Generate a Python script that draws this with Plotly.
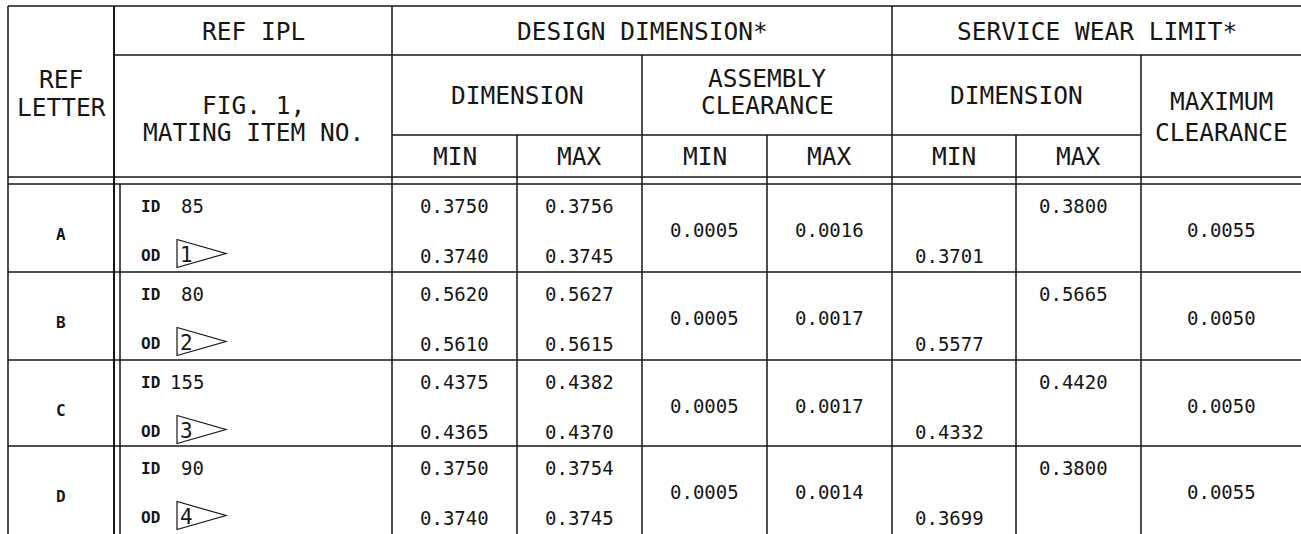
import plotly.graph_objects as go

# ---------------- data ----------------
ref_letters = ["A", "B", "C", "D"]
ipl_items = ["85", "80", "155", "90"]
flag_numbers = ["1", "2", "3", "4"]
design_min_id = [0.3750, 0.5620, 0.4375, 0.3750]
design_min_od = [0.3740, 0.5610, 0.4365, 0.3740]
design_max_id = [0.3756, 0.5627, 0.4382, 0.3754]
design_max_od = [0.3745, 0.5615, 0.4370, 0.3745]
assembly_min = [0.0005, 0.0005, 0.0005, 0.0005]
assembly_max = [0.0016, 0.0017, 0.0017, 0.0014]
wear_min = [0.3701, 0.5577, 0.4332, 0.3699]
wear_max = [0.3800, 0.5665, 0.4420, 0.3800]
max_clearance = [0.0055, 0.0050, 0.0050, 0.0055]

# ---------------- layout geometry (pixel-like units) ----------------
W, H = 1301, 534
col_x = [8, 114, 392, 517, 642, 767, 892, 1016, 1141, 1301]
inner_x = 120
hdr_y = [6, 55, 135, 177, 184]
row_top = [184, 272, 360, 446]
row_h = 88

FONT = "DejaVu Sans Mono"
INK = "#161616"
HDR = 24.5
VAL = 19

fig = go.Figure()
shapes = []
ann = []


def hline(y, x0, x1, w=1.5):
    shapes.append(dict(type="line", xref="x", yref="y", x0=x0, x1=x1, y0=y, y1=y,
                       line=dict(color=INK, width=w)))


def vline(x, y0, y1, w=1.5):
    shapes.append(dict(type="line", xref="x", yref="y", x0=x, x1=x, y0=y0, y1=y1,
                       line=dict(color=INK, width=w)))


def text(x, y, s, size=VAL, anchor="center", bold=False, xshift=0):
    ann.append(dict(xref="x", yref="y", x=x, y=y, text=("<b>%s</b>" % s) if bold else s,
                    showarrow=False, xanchor=anchor, yanchor="middle", xshift=xshift,
                    font=dict(family=FONT, size=size, color=INK)))


# horizontal rules
hline(hdr_y[0], col_x[0], W)
hline(hdr_y[1], col_x[1], W)
hline(hdr_y[2], col_x[2], col_x[8])
hline(hdr_y[3], col_x[0], W)
hline(hdr_y[4], col_x[0], W)
for t in row_top[1:]:
    hline(t, col_x[0], W)

# vertical rules
vline(col_x[0], hdr_y[0], H)
vline(col_x[1], hdr_y[0], H, 2)
vline(inner_x, hdr_y[4], H)
vline(col_x[2], hdr_y[0], H)
vline(col_x[3], hdr_y[2], H)
vline(col_x[4], hdr_y[1], H)
vline(col_x[5], hdr_y[2], H)
vline(col_x[6], hdr_y[0], H)
vline(col_x[7], hdr_y[2], H)
vline(col_x[8], hdr_y[1], H)


def cx(i, j=None):
    j = i + 1 if j is None else j
    return (col_x[i] + col_x[j]) / 2


# header text
text(cx(0), 79, "REF", HDR)
text(cx(0), 107, "LETTER", HDR)
text(cx(1), 31, "REF IPL", HDR)
text(cx(1), 105, "FIG. 1,", HDR)
text(cx(1), 132, "MATING ITEM NO.", HDR)
text(cx(2, 6), 31, "DESIGN DIMENSION*", HDR)
text(cx(6, 9), 31, "SERVICE WEAR LIMIT*", HDR)
text(cx(2, 4), 95, "DIMENSION", HDR)
text(cx(4, 6), 78, "ASSEMBLY", HDR)
text(cx(4, 6), 105, "CLEARANCE", HDR)
text(cx(6, 8), 95, "DIMENSION", HDR)
text(cx(8), 101, "MAXIMUM", HDR)
text(cx(8), 132, "CLEARANCE", HDR)
for i, lab in zip([2, 3, 4, 5, 6, 7], ["MIN", "MAX", "MIN", "MAX", "MIN", "MAX"]):
    text(cx(i), 156, lab, HDR)

fmt = "{:.4f}".format

# body rows
for r in range(len(ref_letters)):
    top = row_top[r]
    bot = top + row_h
    up = top + 22
    lo = bot - 16.5
    mid = (top + bot) / 2 + 2
    text(cx(0), mid + 4, ref_letters[r], 16, bold=True)
    text(139, up, "ID", 16, anchor="left", bold=True)
    text(206, up, ipl_items[r], VAL, anchor="right")
    text(139, lo, "OD", 16, anchor="left", bold=True)
    # flag note symbol
    fx0, fx1 = 177, 226
    shapes.append(dict(type="path", xref="x", yref="y",
                       path="M %g,%g L %g,%g L %g,%g Z" % (fx0, lo - 16, fx0, lo + 12, fx1, lo - 2),
                       line=dict(color=INK, width=1.2)))
    text(fx0 + 1, lo - 1, flag_numbers[r], 21, anchor="left")
    text(cx(2), up, fmt(design_min_id[r]))
    text(cx(2), lo, fmt(design_min_od[r]))
    text(cx(3), up, fmt(design_max_id[r]))
    text(cx(3), lo, fmt(design_max_od[r]))
    text(cx(4), mid, fmt(assembly_min[r]))
    text(cx(5), mid, fmt(assembly_max[r]))
    text(cx(6), lo, fmt(wear_min[r]), xshift=-5)
    text(cx(7), up, fmt(wear_max[r]), xshift=-5)
    text(cx(8), mid, fmt(max_clearance[r]))

fig.update_layout(
    width=W, height=H,
    margin=dict(l=0, r=0, t=0, b=0),
    paper_bgcolor="white", plot_bgcolor="white",
    xaxis=dict(range=[0, W], visible=False, fixedrange=True),
    yaxis=dict(range=[H, 0], visible=False, fixedrange=True),
    shapes=shapes, annotations=ann, showlegend=False,
)
fig.write_html(
    "out.html",
    config={"displayModeBar": False},
    post_script="document.body.style.margin='0';document.body.style.overflow='hidden';",
)
